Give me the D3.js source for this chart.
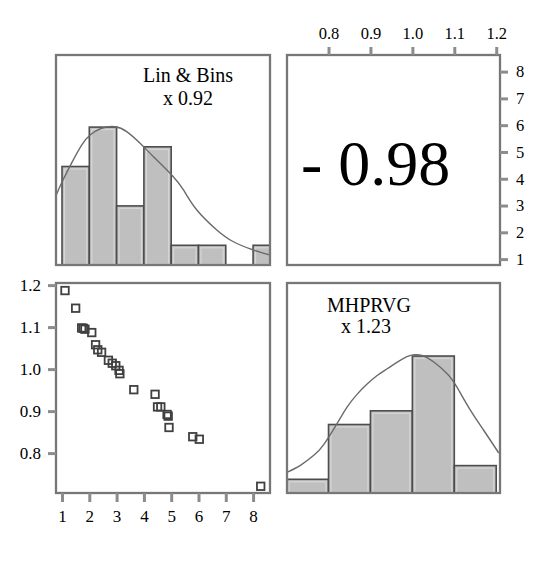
<!DOCTYPE html>
<html>
<head>
<meta charset="utf-8">
<script src="https://cdn.jsdelivr.net/npm/d3@7"></script>
<style>
  body { margin: 0; background: #fff; }
  text { font-family: "Liberation Serif", "DejaVu Serif", serif; fill: #000; }
</style>
</head>
<body>
<script>
"use strict";

// scatter data: Lin & Bins (x) against MHPRVG (y)
const linBins = [1.11, 1.50, 1.72, 1.78, 1.84, 2.09, 2.23, 2.31, 2.45, 2.70, 2.84, 2.97,
                 3.09, 3.12, 3.63, 4.41, 4.50, 4.62, 4.85, 4.89, 4.92, 5.79, 6.03, 8.28];
const mhprvg  = [1.187, 1.145, 1.098, 1.097, 1.095, 1.087, 1.058, 1.046, 1.040, 1.021, 1.014, 1.008,
                 0.997, 0.989, 0.951, 0.940, 0.910, 0.910, 0.892, 0.888, 0.861, 0.839, 0.833, 0.721];

// density curves (x, height in counts)
const linCurveX     = [0.79, 0.98, 1.35, 1.72, 2.03, 2.45, 2.94, 3.37, 3.86, 4.35, 5.02, 5.45, 5.94, 6.67, 7.28, 8.01, 8.62];
const linCurveCount = [3.55, 4.15, 5.17, 6.09, 6.60, 6.94, 7.02, 6.77, 6.18, 5.50, 4.57, 3.81, 2.79, 1.78, 1.18, 0.76, 0.51];
const mhCurveX      = [0.702, 0.733, 0.765, 0.789, 0.821, 0.845, 0.868, 0.892, 0.916, 0.940, 0.964, 0.987, 1.005,
                       1.025, 1.051, 1.083, 1.106, 1.138, 1.170, 1.206];
const mhCurveCount  = [1.53, 2.02, 2.75, 3.55, 5.10, 6.30, 7.20, 7.95, 8.58, 9.07, 9.55, 9.95, 10.10,
                       10.02, 9.56, 8.71, 7.74, 6.06, 4.58, 2.92];

const linBinEdges = [1, 2, 3, 4, 5, 6, 7, 8, 9];
const mhBinEdges  = [0.7, 0.8, 0.9, 1.0, 1.1, 1.2];

const linTicks = [1, 2, 3, 4, 5, 6, 7, 8];
const mhTicks  = [0.8, 0.9, 1.0, 1.1, 1.2];

const linLabel = ["Lin & Bins", "x 0.92"];
const mhLabel  = ["MHPRVG", "x 1.23"];
const corrLabel = "- 0.98";

const width = 551, height = 570;
const colL = 56, colR = 287, colLW = 214, colRW = 213;
const rowT = 55, rowB = 283, rowH = 210;

const svg = d3.select("body").append("svg")
    .attr("width", width)
    .attr("height", height);

const defs = svg.append("defs");

// scales
const linX = d3.scaleLinear().domain([0.78, 8.62]).range([colL, colL + colLW]);
const linY = d3.scaleLinear().domain([0.78, 8.62]).range([rowT + rowH, rowT]);
const mhY  = d3.scaleLinear().domain([0.705, 1.205]).range([rowB + rowH, rowB]);
const mhX  = d3.scaleLinear().domain([0.701, 1.209]).range([colR, colR + colRW]);
const linCount = d3.scaleLinear().domain([0, 10.66]).range([rowT + rowH, rowT]);
const mhCount  = d3.scaleLinear().domain([0, 15.33]).range([rowB + rowH, rowB]);

function panelClip(id, x, y, w, h) {
    defs.append("clipPath").attr("id", id)
        .append("rect").attr("x", x).attr("y", y).attr("width", w).attr("height", h);
}
panelClip("clipTL", colL, rowT, colLW, rowH);
panelClip("clipBR", colR, rowB, colRW, rowH);
panelClip("clipBL", colL, rowB, colLW, rowH);

function drawHist(values, edges, xs, ys, clipId) {
    let bins = d3.bin()
        .domain([edges[0], edges[edges.length - 1]])
        .thresholds(edges.slice(1, -1))(values);
    let g = svg.append("g").attr("clip-path", `url(#${clipId})`);
    bins.filter(b => b.length > 0).forEach(b => {
        let x0 = xs(b.x0), x1 = xs(b.x1), y0 = ys(b.length), y1 = ys(0);
        g.append("rect")
            .attr("x", x0).attr("y", y0)
            .attr("width", x1 - x0).attr("height", y1 - y0)
            .attr("fill", "#bfbfbf")
            .attr("stroke", "#4d4d4d")
            .attr("stroke-width", 1.6);
        // lighter inner edge, gives the bars their raised look
        g.append("rect")
            .attr("x", x0 + 2.5).attr("y", y0 + 2.5)
            .attr("width", Math.max(0, x1 - x0 - 5)).attr("height", Math.max(0, y1 - y0 - 3))
            .attr("fill", "none")
            .attr("stroke", "#d6d6d6")
            .attr("stroke-width", 1.2);
    });
    return g;
}

function drawCurve(g, xsVals, cVals, xs, ys) {
    let pts = xsVals.map((v, i) => [v, cVals[i]]);
    let line = d3.line()
        .x(d => xs(d[0]))
        .y(d => ys(d[1]))
        .curve(d3.curveNatural);
    g.append("path")
        .attr("d", line(pts))
        .attr("fill", "none")
        .attr("stroke", "#6a6a6a")
        .attr("stroke-width", 1.4);
}

function drawFrame(x, y, w, h) {
    svg.append("rect")
        .attr("x", x).attr("y", y).attr("width", w).attr("height", h)
        .attr("fill", "none")
        .attr("stroke", "#777")
        .attr("stroke-width", 2.3);
}

function styleAxis(g, size) {
    g.select(".domain").remove();
    g.selectAll(".tick line").attr("stroke", "#8c8c8c").attr("stroke-width", 3);
    g.selectAll(".tick text")
        .style("font-family", '"Liberation Serif", "DejaVu Serif", serif')
        .style("font-size", size + "px")
        .attr("fill", "#000");
}

// top-left: Lin & Bins histogram
let tl = drawHist(linBins, linBinEdges, linX, linCount, "clipTL");
drawCurve(tl, linCurveX, linCurveCount, linX, linCount);
drawFrame(colL, rowT, colLW, rowH);
svg.append("text").attr("x", 188).attr("y", 82)
    .attr("text-anchor", "middle").style("font-size", "20px").text(linLabel[0]);
svg.append("text").attr("x", 188).attr("y", 105)
    .attr("text-anchor", "middle").style("font-size", "20px").text(linLabel[1]);

// top-right: correlation
drawFrame(colR, rowT, colRW, rowH);
svg.append("text").attr("x", 301).attr("y", 185)
    .style("font-size", "64px").text(corrLabel);

let topAxis = svg.append("g")
    .attr("transform", `translate(0, ${rowT})`)
    .call(d3.axisTop(mhX).tickValues(mhTicks).tickFormat(d3.format(".1f")).tickSize(8).tickPadding(8));
styleAxis(topAxis, 16.5);

let rightAxis = svg.append("g")
    .attr("transform", `translate(${colR + colRW}, 0)`)
    .call(d3.axisRight(linY).tickValues(linTicks).tickSize(8).tickPadding(8));
styleAxis(rightAxis, 16.5);

// bottom-left: scatter
let bl = svg.append("g").attr("clip-path", "url(#clipBL)");
const sq = 7.5;
linBins.forEach((v, i) => {
    bl.append("rect")
        .attr("x", linX(v) - sq / 2)
        .attr("y", mhY(mhprvg[i]) - sq / 2)
        .attr("width", sq).attr("height", sq)
        .attr("fill", "none")
        .attr("stroke", "#404040")
        .attr("stroke-width", 1.8);
});
drawFrame(colL, rowB, colLW, rowH);

let bottomAxis = svg.append("g")
    .attr("transform", `translate(0, ${rowB + rowH})`)
    .call(d3.axisBottom(linX).tickValues(linTicks).tickSize(9).tickPadding(8));
styleAxis(bottomAxis, 17);

let leftAxis = svg.append("g")
    .attr("transform", `translate(${colL}, 0)`)
    .call(d3.axisLeft(mhY).tickValues(mhTicks).tickFormat(d3.format(".1f")).tickSize(8).tickPadding(7));
styleAxis(leftAxis, 17);

// bottom-right: MHPRVG histogram
let br = drawHist(mhprvg, mhBinEdges, mhX, mhCount, "clipBR");
drawCurve(br, mhCurveX, mhCurveCount, mhX, mhCount);
drawFrame(colR, rowB, colRW, rowH);
svg.append("text").attr("x", 369).attr("y", 312)
    .attr("text-anchor", "middle").style("font-size", "20px").text(mhLabel[0]);
svg.append("text").attr("x", 366).attr("y", 333)
    .attr("text-anchor", "middle").style("font-size", "20px").text(mhLabel[1]);
</script>
</body>
</html>
